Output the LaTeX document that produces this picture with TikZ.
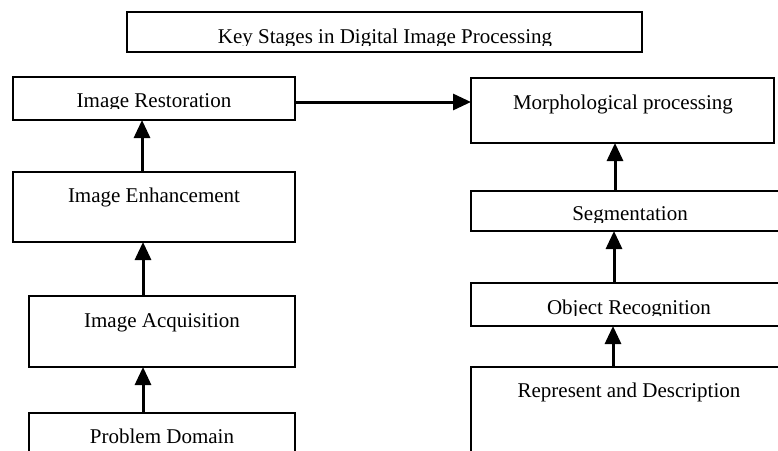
\documentclass[tikz,border=0pt]{standalone}
\usepackage{fontspec}
\setmainfont{Liberation Serif}
\usetikzlibrary{arrows.meta}

\tikzset{
  stagebox/.style={draw=black, line width=2.2pt, rectangle, inner sep=0pt, outer sep=0pt,
                   minimum width=#1},
  lbl/.style={anchor=base, inner sep=0pt, font=\fontsize{21pt}{24pt}\selectfont},
  flow/.style={line width=3pt, -{Triangle[width=16pt,length=18pt]}}
}

\begin{document}
\begin{tikzpicture}[x=1pt, y=1pt]
  \useasboundingbox (0,0) rectangle (778,-450);
  \clip (0,0) rectangle (778,-450);

  % frames of the stages
  \node[stagebox=515pt, minimum height=40pt] (title) at (384.5,-32) {};
  \node[stagebox=282pt, minimum height=43pt] (rest)  at (154,-98.5) {};
  \node[stagebox=282pt, minimum height=70pt] (enh)   at (154,-207) {};
  \node[stagebox=266pt, minimum height=71pt] (acq)   at (162,-331.5) {};
  \node[stagebox=266pt, minimum height=67pt] (prob)  at (162,-446.5) {};
  \node[stagebox=303pt, minimum height=65pt] (morph) at (622.5,-110.5) {};
  \node[stagebox=318pt, minimum height=40pt] (seg)   at (630,-211) {};
  \node[stagebox=318pt, minimum height=43pt] (obj)   at (630,-304.5) {};
  \node[stagebox=318pt, minimum height=113pt] (rep)  at (630,-423.5) {};

  % captions (some are cut just under the baseline)
  \begin{scope}
    \clip (0,0) rectangle (778,-45);
    \node[lbl] (ttitle) at (385,-43) {Key Stages in Digital Image Processing};
  \end{scope}
  \begin{scope}
    \clip (0,-60) rectangle (300,-108.5);
    \node[lbl] (trest) at (154,-107) {Image Restoration};
  \end{scope}
  \node[lbl] (tenh)   at (154,-202) {Image Enhancement};
  \node[lbl] (tacq)   at (162,-327) {Image Acquisition};
  \node[lbl] (tprob)  at (162,-443) {Problem Domain};
  \node[lbl] (tmorph) at (623,-109) {Morphological processing};
  \begin{scope}
    \clip (460,-180) rectangle (778,-222);
    \node[lbl] (tseg) at (630,-220) {Segmentation};
  \end{scope}
  \begin{scope}
    \clip (460,-270) rectangle (778,-315.5);
    \node[lbl] (tobj) at (629,-314) {Object Recognition};
  \end{scope}
  \node[lbl] (trep) at (629,-397) {Represent and Description};

  % connectors
  \draw[flow] ([xshift=129pt]enh.north west) -- ([xshift=129pt]rest.south west);
  \draw[flow] ([xshift=114pt]acq.north west) -- ([xshift=130pt]enh.south west);
  \draw[flow] ([xshift=114pt]prob.north west) -- ([xshift=114pt]acq.south west);
  \coordinate (hs) at ([yshift=-3.5pt]rest.east);
  \draw[flow] (hs) -- (hs -| morph.west);
  \draw[flow] ([xshift=144pt]seg.north west) -- ([xshift=144pt]morph.south west);
  \draw[flow] ([xshift=143pt]obj.north west) -- ([xshift=143pt]seg.south west);
  \draw[flow] ([xshift=142pt]rep.north west) -- ([xshift=142pt]obj.south west);
\end{tikzpicture}
\end{document}
